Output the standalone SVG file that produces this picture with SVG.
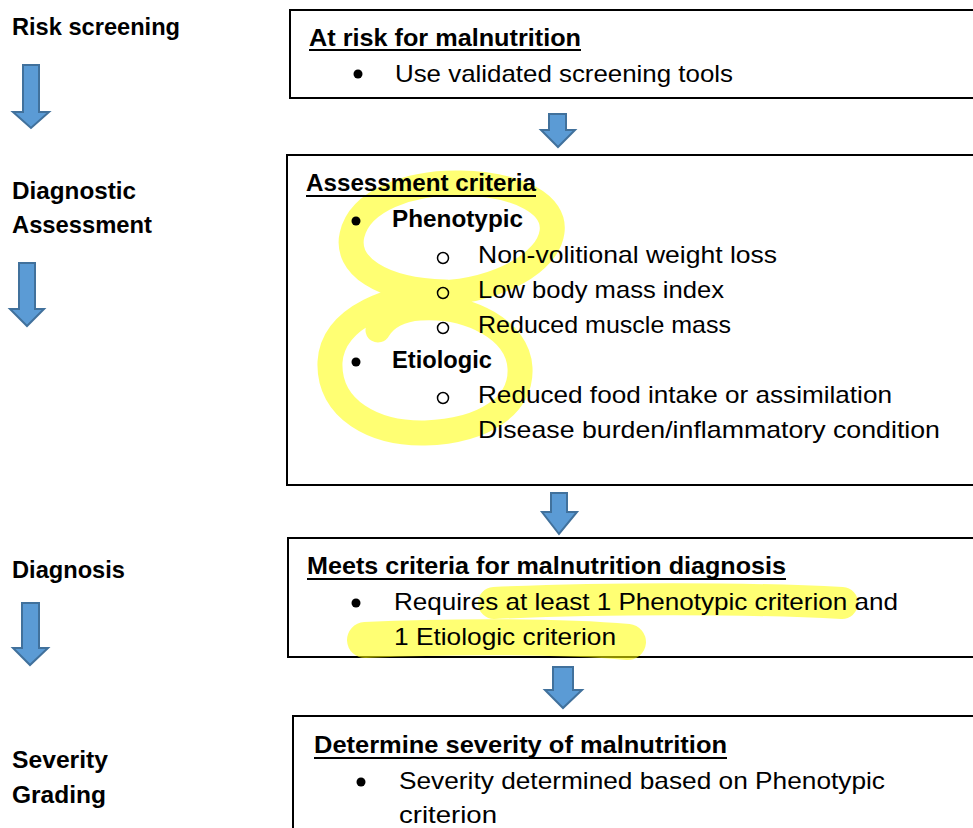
<svg xmlns="http://www.w3.org/2000/svg" width="973" height="828" viewBox="0 0 973 828">
<style>
.box{fill:#fff;stroke:#000;stroke-width:2}
.t{font-family:"Liberation Sans",Arial,sans-serif;font-size:24px;fill:#000}
.b{font-weight:bold}
.ul{stroke:#000;stroke-width:2}
.dot{fill:#000}
.circ{fill:none;stroke:#000;stroke-width:1.5}
.arr{fill:#5b9bd5;stroke:#41719c;stroke-width:2;stroke-linejoin:miter}
.hl{fill:none;stroke:#ffff00;stroke-opacity:0.55;stroke-linecap:round;stroke-linejoin:round}
</style>
<rect width="973" height="828" fill="#fff"/>

<g id="stage-labels">
<text class="t b" x="12" y="35" textLength="168" lengthAdjust="spacingAndGlyphs">Risk screening</text>
<text class="t b" x="12" y="199" textLength="124" lengthAdjust="spacingAndGlyphs">Diagnostic</text>
<text class="t b" x="12" y="233" textLength="140" lengthAdjust="spacingAndGlyphs">Assessment</text>
<text class="t b" x="12" y="578" textLength="113" lengthAdjust="spacingAndGlyphs">Diagnosis</text>
<text class="t b" x="12" y="768" textLength="96" lengthAdjust="spacingAndGlyphs">Severity</text>
<text class="t b" x="12" y="803" textLength="94" lengthAdjust="spacingAndGlyphs">Grading</text>
</g>

<g id="connectors">
<polygon class="arr" points="23,65 39,65 39,112 49,112 31,128 13,112 23,112"/>
<polygon class="arr" points="19,263 35,263 35,309 44,309 27,326 10,309 19,309"/>
<polygon class="arr" points="22,603 39,603 39,648 48,648 30,665 13,648 22,648"/>
<polygon class="arr" points="549,114 566,114 566,130 575,130 558,147 541,130 549,130"/>
<polygon class="arr" points="551,493 567,493 567,512 577,512 559,534 542,512 551,512"/>
<polygon class="arr" points="553,667 573,667 573,690 582,690 563,708 545,690 553,690"/>
</g>

<g id="node-risk">
<rect class="box" x="290" y="10" width="700" height="88"/>
<text class="t b" x="309" y="46" textLength="272" lengthAdjust="spacingAndGlyphs">At risk for malnutrition</text>
<line class="ul" x1="309" y1="50" x2="581" y2="50"/>
<circle class="dot" cx="358" cy="74" r="4.5"/>
<text class="t" x="395" y="82" textLength="338" lengthAdjust="spacingAndGlyphs">Use validated screening tools</text>
</g>

<g id="node-assessment">
<rect class="box" x="287" y="155" width="700" height="330"/>
<path class="hl" stroke-width="25" d="M445,292 C380,290 345,265 352,235 C360,200 410,182 460,183 C520,184 556,205 552,232 C548,262 500,290 440,293 C395,296 333,315 330,362 C328,410 375,434 425,433 C485,431 522,405 520,368 C518,330 470,305 420,308 C400,309 385,318 378,330"/>
<text class="t b" x="306" y="191" textLength="230" lengthAdjust="spacingAndGlyphs">Assessment criteria</text>
<line class="ul" x1="306" y1="196" x2="536" y2="196"/>
<circle class="dot" cx="356" cy="221" r="4.5"/>
<text class="t b" x="392" y="227" textLength="131" lengthAdjust="spacingAndGlyphs">Phenotypic</text>
<circle class="circ" cx="443" cy="258" r="5.5"/>
<text class="t" x="478" y="263" textLength="299" lengthAdjust="spacingAndGlyphs">Non-volitional weight loss</text>
<circle class="circ" cx="443" cy="293" r="5.5"/>
<text class="t" x="478" y="298" textLength="246" lengthAdjust="spacingAndGlyphs">Low body mass index</text>
<circle class="circ" cx="443" cy="328" r="5.5"/>
<text class="t" x="478" y="333" textLength="253" lengthAdjust="spacingAndGlyphs">Reduced muscle mass</text>
<circle class="dot" cx="356" cy="362" r="4.5"/>
<text class="t b" x="392" y="368" textLength="100" lengthAdjust="spacingAndGlyphs">Etiologic</text>
<circle class="circ" cx="443" cy="398" r="5.5"/>
<text class="t" x="478" y="403" textLength="414" lengthAdjust="spacingAndGlyphs">Reduced food intake or assimilation</text>
<text class="t" x="478" y="438" textLength="462" lengthAdjust="spacingAndGlyphs">Disease burden/inflammatory condition</text>
</g>

<g id="node-diagnosis">
<rect class="box" x="288" y="538" width="700" height="119"/>
<path class="hl" stroke-width="32" d="M494,603 C600,598 750,598 842,603"/>
<path class="hl" stroke-width="36" d="M365,640 C450,636 560,636 628,642"/>
<text class="t b" x="307" y="574" textLength="479" lengthAdjust="spacingAndGlyphs">Meets criteria for malnutrition diagnosis</text>
<line class="ul" x1="307" y1="579" x2="786" y2="579"/>
<circle class="dot" cx="356" cy="603" r="4.5"/>
<text class="t" x="394" y="610" textLength="504" lengthAdjust="spacingAndGlyphs">Requires at least 1 Phenotypic criterion and</text>
<text class="t" x="394" y="645" textLength="222" lengthAdjust="spacingAndGlyphs">1 Etiologic criterion</text>
</g>

<g id="node-severity">
<rect class="box" x="293" y="716" width="700" height="130"/>
<text class="t b" x="314" y="753" textLength="413" lengthAdjust="spacingAndGlyphs">Determine severity of malnutrition</text>
<line class="ul" x1="314" y1="758" x2="727" y2="758"/>
<circle class="dot" cx="361" cy="782" r="4.5"/>
<text class="t" x="399" y="789" textLength="486" lengthAdjust="spacingAndGlyphs">Severity determined based on Phenotypic</text>
<text class="t" x="399" y="823" textLength="98" lengthAdjust="spacingAndGlyphs">criterion</text>
</g>
</svg>
